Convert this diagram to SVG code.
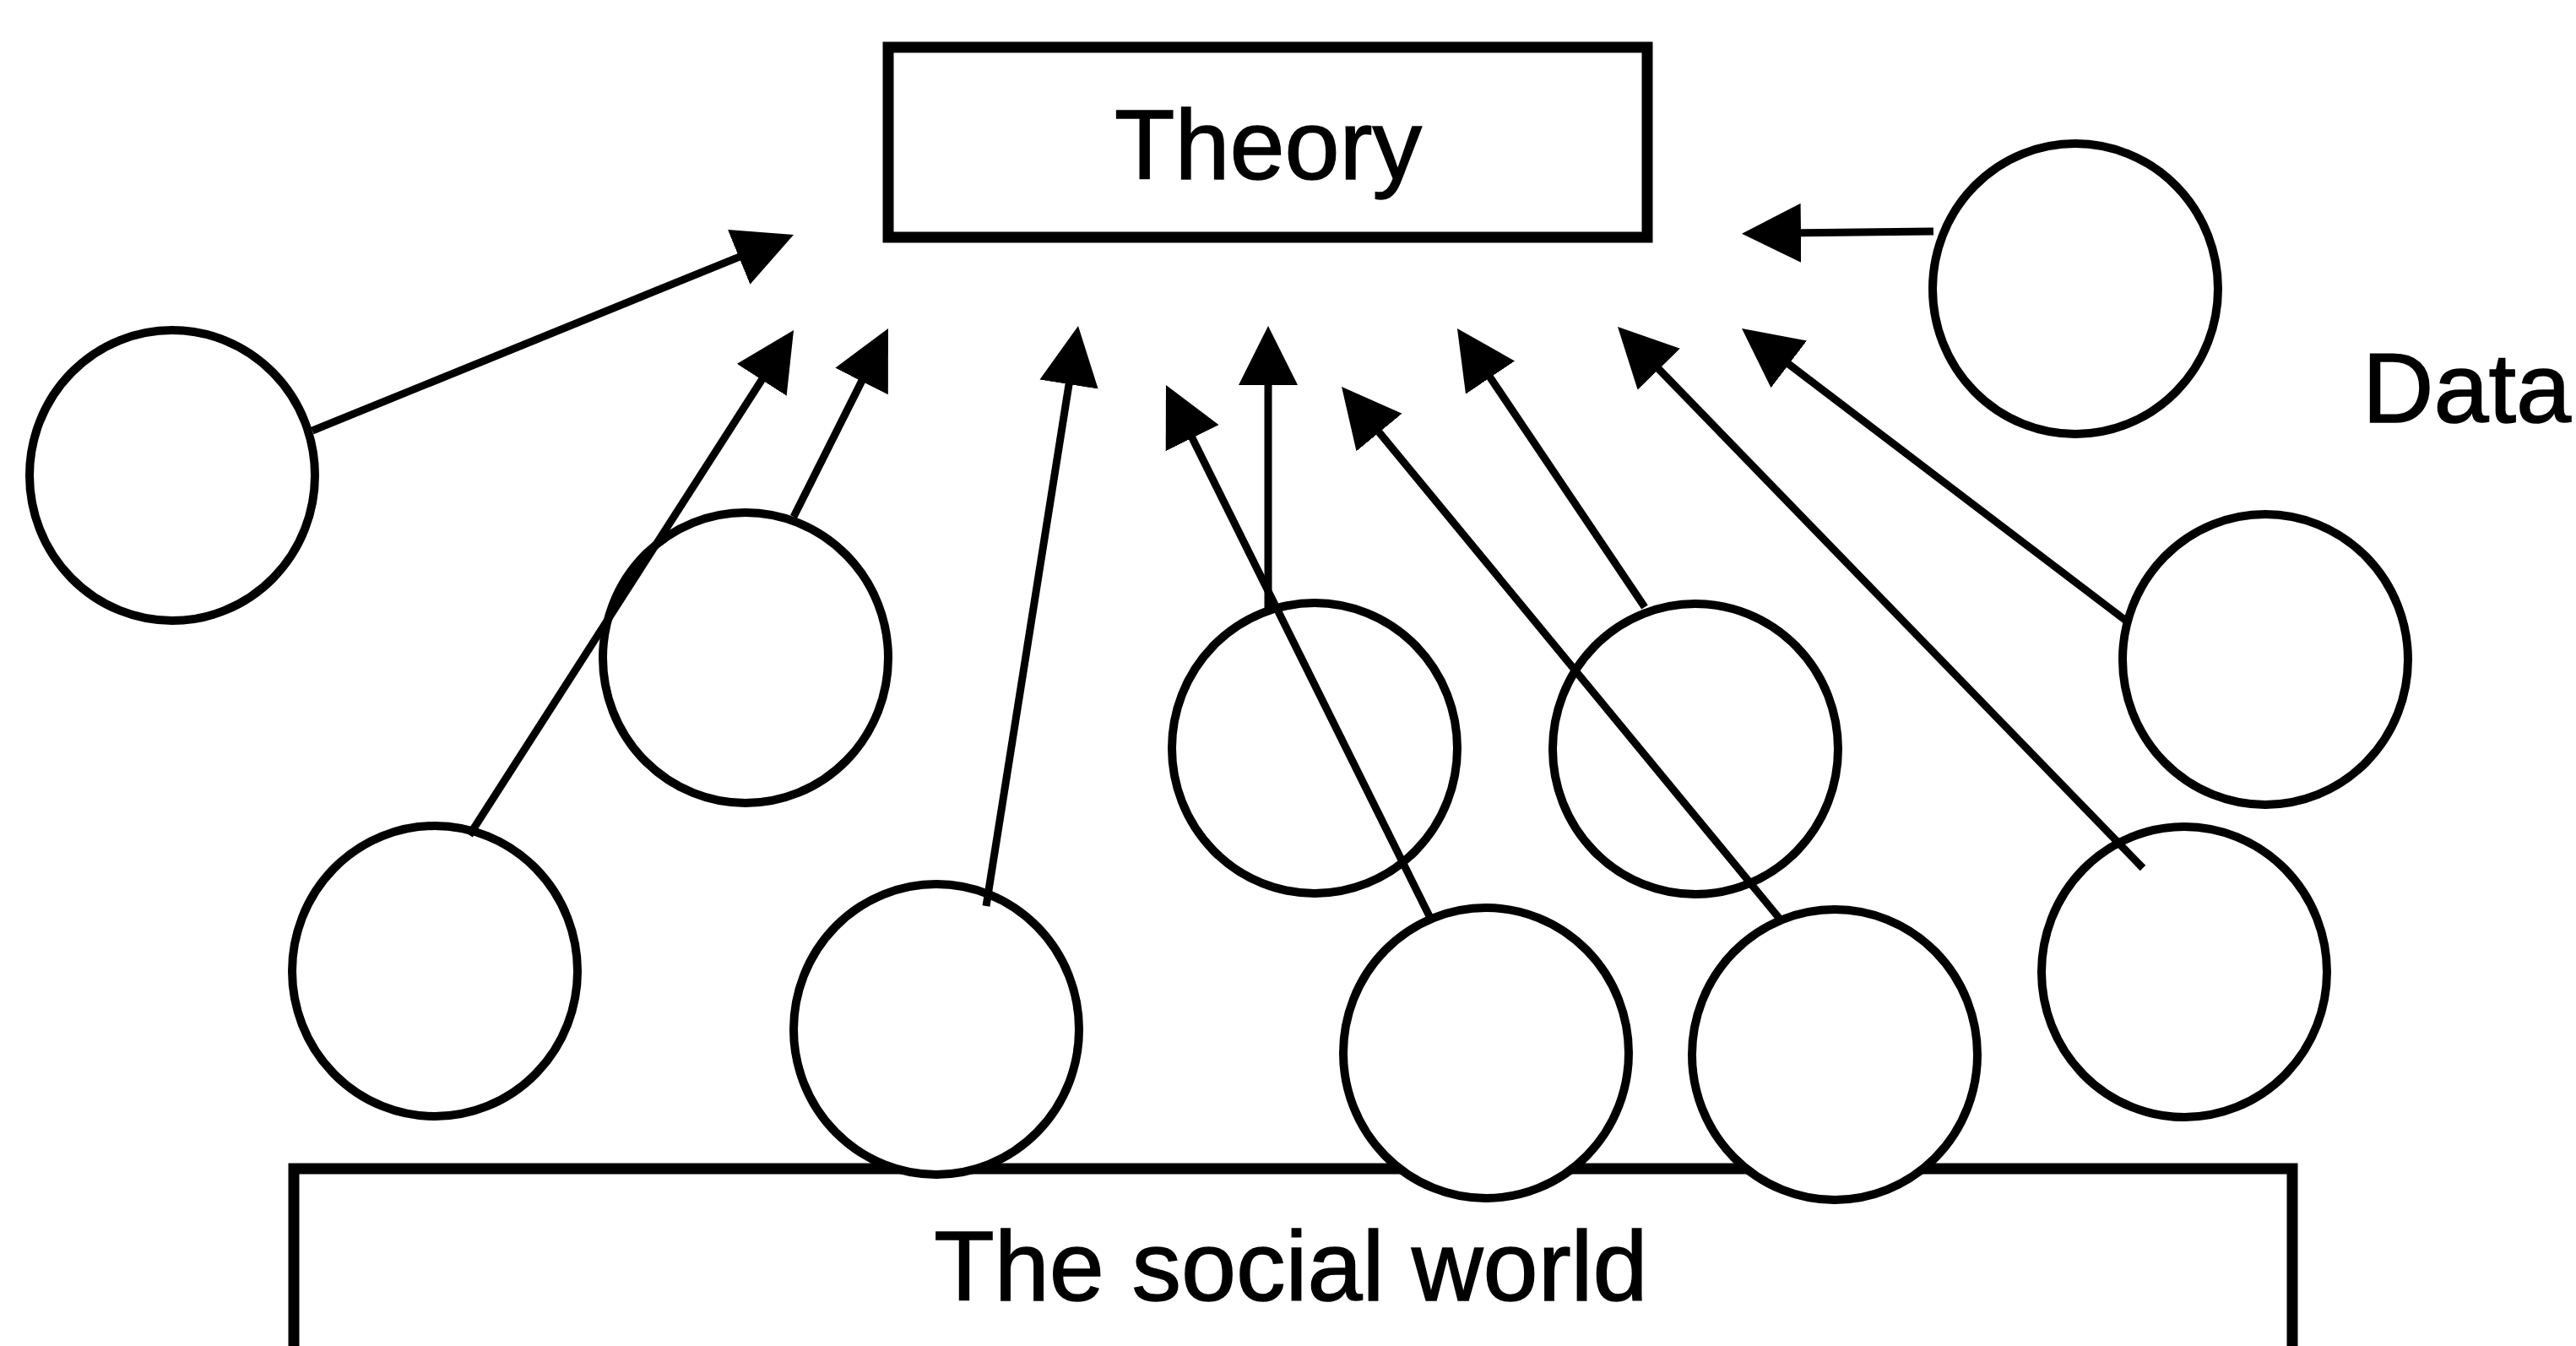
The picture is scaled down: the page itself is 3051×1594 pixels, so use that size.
<svg xmlns="http://www.w3.org/2000/svg" width="3051" height="1594" viewBox="0 0 3051 1594">
<style>
.box{fill:#fff;stroke:#000;stroke-width:13}
.node{fill:#fff;stroke:#000;stroke-width:10}
.edge{fill:none;stroke:#000;stroke-width:9;marker-end:url(#ah)}
.lbl{font-family:"Liberation Sans",Arial,Helvetica,sans-serif;font-size:117px;fill:#000;stroke:#000;stroke-width:1.5}
</style>
<defs>
<marker id="ah" markerUnits="userSpaceOnUse" markerWidth="70" markerHeight="70" viewBox="0 0 70 70" refX="40" refY="35" orient="auto">
<path d="M0,0 L70,35 L0,70 Z" fill="#000"/>
</marker>
</defs>
<rect width="3051" height="1594" fill="#fff"/>
<g id="social-world">
<rect class="box" x="348" y="1384" width="2367" height="320"/>
<text class="lbl" x="1529" y="1540" text-anchor="middle">The social world</text>
</g>
<g id="theory">
<rect class="box" x="1052" y="56" width="899" height="225"/>
<text class="lbl" x="1502" y="212" text-anchor="middle">Theory</text>
</g>
<g id="data-label">
<text class="lbl" x="2798" y="500">Data</text>
</g>
<g id="d1"><ellipse class="node" cx="204" cy="563" rx="169" ry="172"/></g>
<g id="d2"><ellipse class="node" cx="883" cy="779" rx="169" ry="172"/></g>
<g id="d3"><ellipse class="node" cx="515" cy="1150" rx="169" ry="172"/></g>
<g id="d4"><ellipse class="node" cx="1109" cy="1219" rx="169" ry="172"/></g>
<g id="d5"><ellipse class="node" cx="1557" cy="886" rx="169" ry="172"/></g>
<g id="d6"><ellipse class="node" cx="2008" cy="887" rx="169" ry="172"/></g>
<g id="d7"><ellipse class="node" cx="1760" cy="1247" rx="169" ry="172"/></g>
<g id="d8"><ellipse class="node" cx="2173" cy="1249" rx="169" ry="172"/></g>
<g id="d9"><ellipse class="node" cx="2587" cy="1151" rx="169" ry="172"/></g>
<g id="d10"><ellipse class="node" cx="2683" cy="781" rx="169" ry="172"/></g>
<g id="d11"><ellipse class="node" cx="2458" cy="342" rx="169" ry="172"/></g>
<g id="connectors">
<line class="edge" x1="370" y1="510" x2="912.2" y2="289.3"/>
<line class="edge" x1="556" y1="989" x2="923.8" y2="416.2"/>
<line class="edge" x1="940" y1="612" x2="1038.5" y2="415.8"/>
<line class="edge" x1="1168" y1="1073" x2="1272.3" y2="415.6"/>
<line class="edge" x1="1693" y1="1085" x2="1394.3" y2="482.9"/>
<line class="edge" x1="1502" y1="722" x2="1502" y2="416"/>
<line class="edge" x1="2107" y1="1087" x2="1608.1" y2="481.2"/>
<line class="edge" x1="1948" y1="719" x2="1742.7" y2="413.9"/>
<line class="edge" x1="2538" y1="1028" x2="1936.9" y2="408.5"/>
<line class="edge" x1="2518" y1="735" x2="2086.9" y2="407.2"/>
<line class="edge" x1="2290" y1="274" x2="2093" y2="276.3"/>
</g>
</svg>
